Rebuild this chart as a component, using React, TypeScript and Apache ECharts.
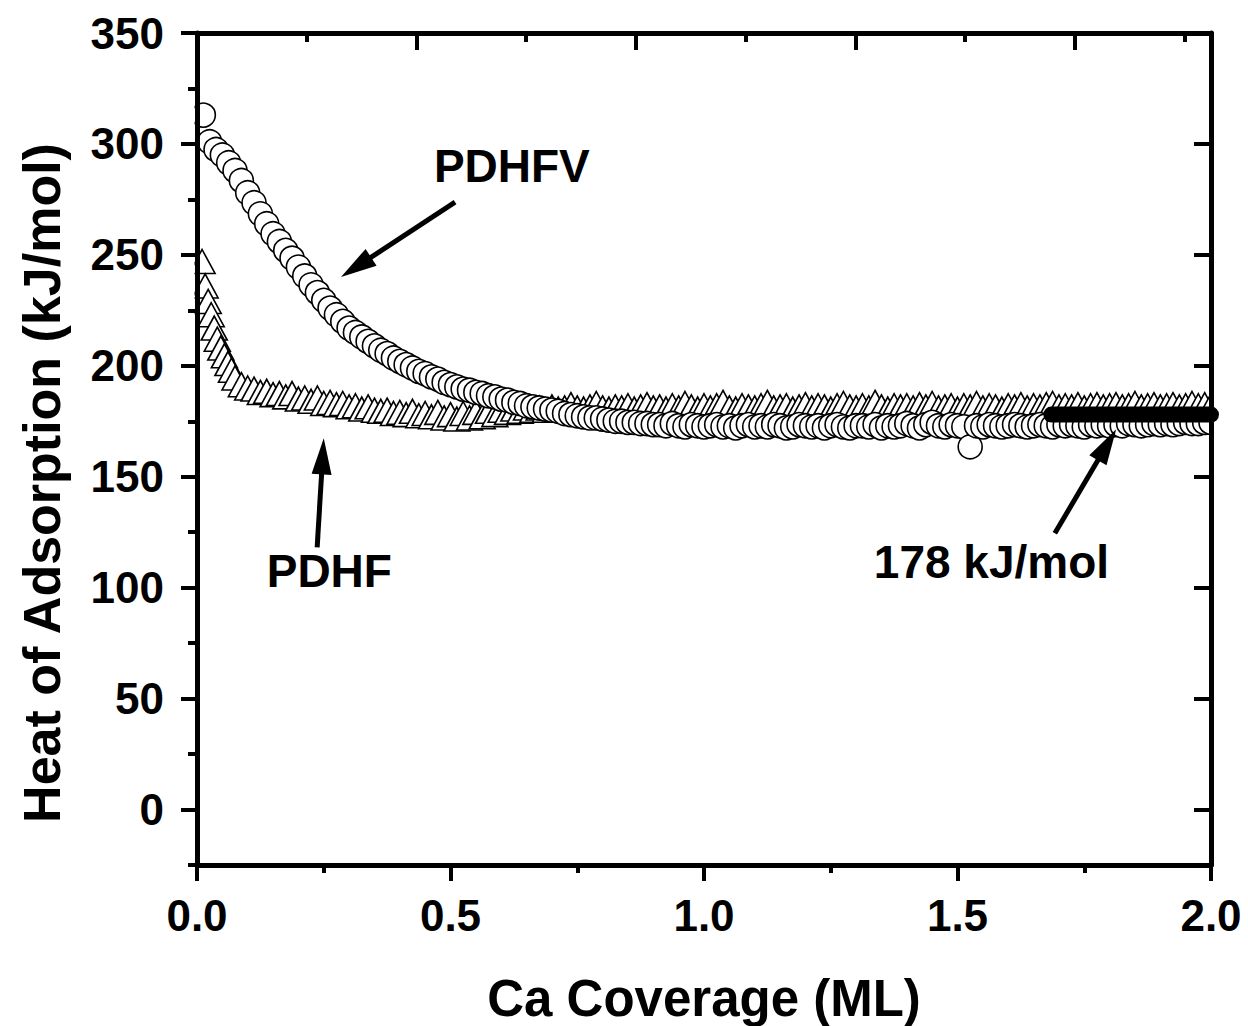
import React, { useEffect, useRef } from "react";
import * as echarts from "echarts";

// ---------- data ----------
const pdhfvX = [
  0.0125, 0.025, 0.0375, 0.05, 0.0625, 0.075, 0.0875, 0.1,
  0.1125, 0.125, 0.1375, 0.15, 0.1625, 0.175, 0.1875, 0.2,
  0.2125, 0.225, 0.2375, 0.25, 0.2625, 0.275, 0.2875, 0.3,
  0.3125, 0.325, 0.3375, 0.35, 0.3625, 0.375, 0.3875, 0.4,
  0.4125, 0.425, 0.4375, 0.45, 0.4625, 0.475, 0.4875, 0.5,
  0.5125, 0.525, 0.5375, 0.55, 0.5625, 0.575, 0.5875, 0.6,
  0.6125, 0.625, 0.6375, 0.65, 0.6625, 0.675, 0.6875, 0.7,
  0.7125, 0.725, 0.7375, 0.75, 0.7625, 0.775, 0.7875, 0.8,
  0.8125, 0.825, 0.8375, 0.85, 0.8625, 0.875, 0.8875, 0.9,
  0.9125, 0.925, 0.9375, 0.95, 0.9625, 0.975, 0.9875, 1.0,
  1.0125, 1.025, 1.0375, 1.05, 1.0625, 1.075, 1.0875, 1.1,
  1.1125, 1.125, 1.1375, 1.15, 1.1625, 1.175, 1.1875, 1.2,
  1.2125, 1.225, 1.2375, 1.25, 1.2625, 1.275, 1.2875, 1.3,
  1.3125, 1.325, 1.3375, 1.35, 1.3625, 1.375, 1.3875, 1.4,
  1.4125, 1.425, 1.4375, 1.45, 1.4625, 1.475, 1.4875, 1.5,
  1.5125, 1.525, 1.5375, 1.55, 1.5625, 1.575, 1.5875, 1.6,
  1.6125, 1.625, 1.6375, 1.65, 1.6625, 1.675, 1.6875, 1.7,
  1.7125, 1.725, 1.7375, 1.75, 1.7625, 1.775, 1.7875, 1.8,
  1.8125, 1.825, 1.8375, 1.85, 1.8625, 1.875, 1.8875, 1.9,
  1.9125, 1.925, 1.9375, 1.95, 1.9625, 1.975, 1.9875, 2.0,
];
const pdhfvY = [
  313, 301, 297.5, 295, 291.5, 288, 283.5, 278,
  273.5, 268.5, 264, 259.5, 256, 252, 248.5, 244.5,
  240.5, 236.5, 233, 229.5, 226, 223, 220, 217,
  215, 213, 211, 209, 207, 205.5, 203.5, 202,
  200.5, 199, 197.5, 196.5, 195, 194, 192.5, 191.5,
  190.5, 189.5, 189, 188, 187.5, 186.5, 186, 185,
  184.5, 183.5, 183, 182, 181.5, 181, 180.5, 180,
  179.5, 178.5, 178, 177.5, 177, 176.5, 176.5, 176,
  175.5, 175, 175, 174.5, 174.5, 174, 174, 173.5,
  173.5, 173, 174, 173, 172.5, 173.5, 173, 172.5,
  173, 173.5, 172.5, 173, 172, 173, 173.5, 172.5,
  173, 172.5, 173.5, 173, 172, 172.5, 173.5, 173,
  172.5, 173, 172, 173, 173.5, 172.5, 172, 173,
  173, 172.5, 173.5, 172, 173, 172.5, 173, 174,
  173, 172, 173.5, 174.5, 173, 172.5, 173.5, 173,
  172.5, 163.5, 173, 172.5, 173.5, 173, 172.5, 173,
  173.5, 173, 172.5, 173, 173.5, 173, 172.5, 173.5,
  173, 173.5, 173, 172.5, 173.5, 173, 173.5, 173,
  173.5, 173, 174, 173.5, 173, 173.5, 174, 173.5,
  174, 173.5, 174, 174.5, 174, 174, 174.5, 174.5,
];

const pdhfX = [
  0.01, 0.016, 0.022, 0.028, 0.034, 0.04, 0.047, 0.054, 0.061, 0.068, 0.075,
  0.0875, 0.1,
  0.1125, 0.125, 0.1375, 0.15, 0.1625, 0.175, 0.1875, 0.2,
  0.2125, 0.225, 0.2375, 0.25, 0.2625, 0.275, 0.2875, 0.3,
  0.3125, 0.325, 0.3375, 0.35, 0.3625, 0.375, 0.3875, 0.4,
  0.4125, 0.425, 0.4375, 0.45, 0.4625, 0.475, 0.4875, 0.5,
  0.5125, 0.525, 0.5375, 0.55, 0.5625, 0.575, 0.5875, 0.6,
  0.6125, 0.625, 0.6375, 0.65, 0.6625, 0.675, 0.6875, 0.7,
  0.7125, 0.725, 0.7375, 0.75, 0.7625, 0.775, 0.7875, 0.8,
  0.8125, 0.825, 0.8375, 0.85, 0.8625, 0.875, 0.8875, 0.9,
  0.9125, 0.925, 0.9375, 0.95, 0.9625, 0.975, 0.9875, 1.0,
  1.0125, 1.025, 1.0375, 1.05, 1.0625, 1.075, 1.0875, 1.1,
  1.1125, 1.125, 1.1375, 1.15, 1.1625, 1.175, 1.1875, 1.2,
  1.2125, 1.225, 1.2375, 1.25, 1.2625, 1.275, 1.2875, 1.3,
  1.3125, 1.325, 1.3375, 1.35, 1.3625, 1.375, 1.3875, 1.4,
  1.4125, 1.425, 1.4375, 1.45, 1.4625, 1.475, 1.4875, 1.5,
  1.5125, 1.525, 1.5375, 1.55, 1.5625, 1.575, 1.5875, 1.6,
  1.6125, 1.625, 1.6375, 1.65, 1.6625, 1.675, 1.6875, 1.7,
  1.7125, 1.725, 1.7375, 1.75, 1.7625, 1.775, 1.7875, 1.8,
  1.8125, 1.825, 1.8375, 1.85, 1.8625, 1.875, 1.8875, 1.9,
  1.9125, 1.925, 1.9375, 1.95, 1.9625, 1.975, 1.9875, 2.0,
];
const pdhfY = [
  247, 236, 229, 223, 217, 212, 208, 204.5, 201, 198, 194.5,
  191.5, 190,
  189.5, 188, 188.5, 187, 187.5, 186, 187.5, 185,
  185.5, 184, 185.5, 183, 183.5, 182.5, 183, 181.5,
  182, 180.5, 181.5, 180, 179.5, 180, 178.5, 179,
  178, 179.5, 177.5, 178.5, 177, 179, 176.5, 178,
  176, 178.5, 176.5, 179, 177, 179.5, 178, 180,
  179, 180.5, 179.5, 181, 180, 181, 180, 181.5,
  180.5, 181, 182.5, 181, 180.5, 181.5, 183, 181,
  180.5, 181.5, 181, 182, 180.5, 181.5, 182.5, 181,
  181.5, 180.5, 182, 181, 183, 181.5, 180.5, 182,
  181, 182, 183.5, 181, 180.5, 182, 181.5, 181,
  182, 183.5, 181, 181.5, 182, 180.5, 181.5, 182.5,
  181, 182, 181.5, 180.5, 182, 183, 181.5, 181,
  182, 181, 183.5, 181.5, 180.5, 182, 181.5, 182,
  181, 182.5, 181.5, 183, 181, 181.5, 182, 180.5,
  182, 181.5, 183, 181, 182, 181.5, 180.5, 182,
  181.5, 182.5, 181, 182, 181.5, 182.5, 183, 181.5,
  182, 181.5, 182.5, 181, 182, 182.5, 181.5, 182,
  182.5, 181.5, 182, 183, 181.5, 182, 182.5, 181.5,
  182, 182.5, 181.5, 182, 183, 182, 182.5, 182,
];

const fitX = [1.685, 2.0];
const fitY = [178, 178];

const yMajorTicks = [0, 50, 100, 150, 200, 250, 300, 350];
const yMinorTicks = [-25, 25, 75, 125, 175, 225, 275, 325];

const annotationTexts = [
  { text: "PDHFV", x: 0.621, y: 290 },
  { text: "PDHF", x: 0.261, y: 107.3 },
  { text: "178 kJ/mol", x: 1.567, y: 111.4 },
];
const annotationArrows = [
  { from: [0.509, 273.8], to: [0.284, 240] },
  { from: [0.237, 118.2], to: [0.25, 167.3] },
  { from: [1.692, 124.5], to: [1.813, 171.4] },
];

const FONT = "'Liberation Sans', Arial, Helvetica, sans-serif";

export default function App() {
  const ref = useRef<HTMLDivElement>(null);

  useEffect(() => {
    if (!ref.current) return;
    const chart = echarts.init(ref.current, undefined, { renderer: "svg" });

    const lineStyle = { color: "#000", width: 5 };
    const tickStyle = { color: "#000", width: 4 };
    const labelStyle = {
      color: "#000",
      fontWeight: "bold" as const,
      fontSize: 44,
      fontFamily: FONT,
    };
    const AXIS_Z = 6;

    const option: any = {
      animation: false,
      backgroundColor: "#fff",
      grid: { left: 197, right: 37, top: 33, bottom: 161, containLabel: false },
      xAxis: [
        {
          type: "value",
          position: "bottom",
          z: AXIS_Z,
          min: 0,
          max: 2,
          interval: 0.5,
          axisLine: { show: true, onZero: false, lineStyle },
          axisTick: { show: true, inside: false, length: 16, lineStyle: tickStyle },
          minorTick: { show: true, splitNumber: 2, length: 8, lineStyle: tickStyle },
          axisLabel: {
            ...labelStyle,
            margin: 28,
            formatter: (v: number) => v.toFixed(1),
          },
          splitLine: { show: false },
        },
        {
          type: "value",
          position: "top",
          z: AXIS_Z,
          min: 0,
          max: 4.62,
          interval: 1,
          axisLine: { show: true, onZero: false, lineStyle },
          axisTick: { show: true, inside: true, length: 17, lineStyle: tickStyle },
          minorTick: { show: true, splitNumber: 2, length: 9, lineStyle: tickStyle },
          axisLabel: { show: false },
          splitLine: { show: false },
        },
      ],
      yAxis: [
        {
          type: "value",
          position: "left",
          z: AXIS_Z,
          min: -25,
          max: 350,
          axisLine: { show: true, onZero: false, lineStyle },
          axisTick: {
            show: true,
            inside: false,
            length: 16,
            lineStyle: tickStyle,
            customValues: yMajorTicks,
          },
          axisLabel: { ...labelStyle, margin: 33, customValues: yMajorTicks },
          splitLine: { show: false },
        },
        {
          type: "value",
          position: "left",
          z: AXIS_Z,
          min: -25,
          max: 350,
          axisLine: { show: false },
          axisTick: {
            show: true,
            inside: false,
            length: 8,
            lineStyle: tickStyle,
            customValues: yMinorTicks,
          },
          axisLabel: { show: false },
          splitLine: { show: false },
        },
        {
          type: "value",
          position: "right",
          z: AXIS_Z,
          min: -25,
          max: 350,
          axisLine: { show: true, onZero: false, lineStyle },
          axisTick: {
            show: true,
            inside: true,
            length: 17,
            lineStyle: tickStyle,
            customValues: yMajorTicks,
          },
          axisLabel: { show: false },
          splitLine: { show: false },
        },
        {
          type: "value",
          position: "right",
          z: AXIS_Z,
          min: -25,
          max: 350,
          axisLine: { show: false },
          axisTick: {
            show: true,
            inside: true,
            length: 9,
            lineStyle: tickStyle,
            customValues: yMinorTicks,
          },
          axisLabel: { show: false },
          splitLine: { show: false },
        },
      ],
      series: [
        {
          name: "PDHF",
          type: "scatter",
          xAxisIndex: 0,
          yAxisIndex: 0,
          symbol: "triangle",
          symbolSize: [26, 24],
          silent: true,
          itemStyle: {
            color: "#fff",
            borderColor: "#000",
            borderWidth: 1.6,
            opacity: 1,
          },
          data: pdhfX.map((x, i) => [x, pdhfY[i]]),
          z: 2,
        },
        {
          name: "PDHFV",
          type: "scatter",
          xAxisIndex: 0,
          yAxisIndex: 0,
          symbol: "circle",
          symbolSize: 24,
          silent: true,
          itemStyle: {
            color: "#fff",
            borderColor: "#000",
            borderWidth: 1.6,
            opacity: 1,
          },
          data: pdhfvX.map((x, i) => [x, pdhfvY[i]]),
          z: 3,
        },
        {
          name: "fit",
          type: "line",
          xAxisIndex: 0,
          yAxisIndex: 0,
          symbol: "none",
          silent: true,
          clip: false,
          lineStyle: { color: "#000", width: 16, cap: "round", opacity: 1 },
          data: fitX.map((x, i) => [x, fitY[i]]),
          z: 5,
        },
      ],
    };

    chart.setOption(option);

    const toPx = (p: number[]) =>
      chart.convertToPixel({ seriesIndex: 0 }, p) as number[];

    const graphics: any[] = [];

    // white masks so markers are clipped at the frame (as in the original)
    const [leftPx, topPx] = toPx([0, 350]);
    const [rightPx, bottomPx] = toPx([2, -25]);
    graphics.push({
      type: "rect",
      z: 4,
      silent: true,
      shape: { x: leftPx - 30, y: topPx + 3, width: 27.5, height: bottomPx - topPx - 6 },
      style: { fill: "#fff" },
    });
    graphics.push({
      type: "rect",
      z: 4,
      silent: true,
      shape: { x: rightPx + 2.5, y: topPx + 3, width: 30, height: bottomPx - topPx - 6 },
      style: { fill: "#fff" },
    });

    annotationTexts.forEach((a) => {
      const [px, py] = toPx([a.x, a.y]);
      graphics.push({
        type: "text",
        x: px,
        y: py,
        z: 10,
        style: {
          text: a.text,
          fill: "#000",
          fontSize: 46,
          fontWeight: "bold",
          fontFamily: FONT,
          align: "center",
          verticalAlign: "middle",
        },
      });
    });
    annotationArrows.forEach((a) => {
      const [sx, sy] = toPx(a.from);
      const [tx, ty] = toPx(a.to);
      const len = Math.hypot(sx - tx, sy - ty);
      const dx = (sx - tx) / len;
      const dy = (sy - ty) / len;
      const headLen = 36;
      const hw = 10;
      const bx = tx + dx * headLen;
      const by = ty + dy * headLen;
      const nx = -dy;
      const ny = dx;
      graphics.push({
        type: "line",
        z: 10,
        shape: { x1: sx, y1: sy, x2: bx - dx * 4, y2: by - dy * 4 },
        style: { stroke: "#000", lineWidth: 5 },
      });
      graphics.push({
        type: "polygon",
        z: 10,
        shape: {
          points: [
            [tx, ty],
            [bx + nx * hw, by + ny * hw],
            [bx - nx * hw, by - ny * hw],
          ],
        },
        style: { fill: "#000" },
      });
    });
    // axis titles
    graphics.push({
      type: "text",
      x: 704,
      y: 998,
      z: 10,
      style: {
        text: "Ca Coverage (ML)",
        fill: "#000",
        fontSize: 51,
        fontWeight: "bold",
        fontFamily: FONT,
        align: "center",
        verticalAlign: "middle",
      },
    });
    graphics.push({
      type: "text",
      x: 42,
      y: 483,
      z: 10,
      rotation: Math.PI / 2,
      style: {
        text: "Heat of Adsorption (kJ/mol)",
        fill: "#000",
        fontSize: 52,
        fontWeight: "bold",
        fontFamily: FONT,
        align: "center",
        verticalAlign: "middle",
      },
    });

    chart.setOption({ graphic: graphics });

    return () => chart.dispose();
  }, []);

  return (
    <div
      ref={ref}
      style={{
        position: "absolute",
        left: 0,
        top: 0,
        width: 1248,
        height: 1026,
        background: "#fff",
      }}
    />
  );
}
